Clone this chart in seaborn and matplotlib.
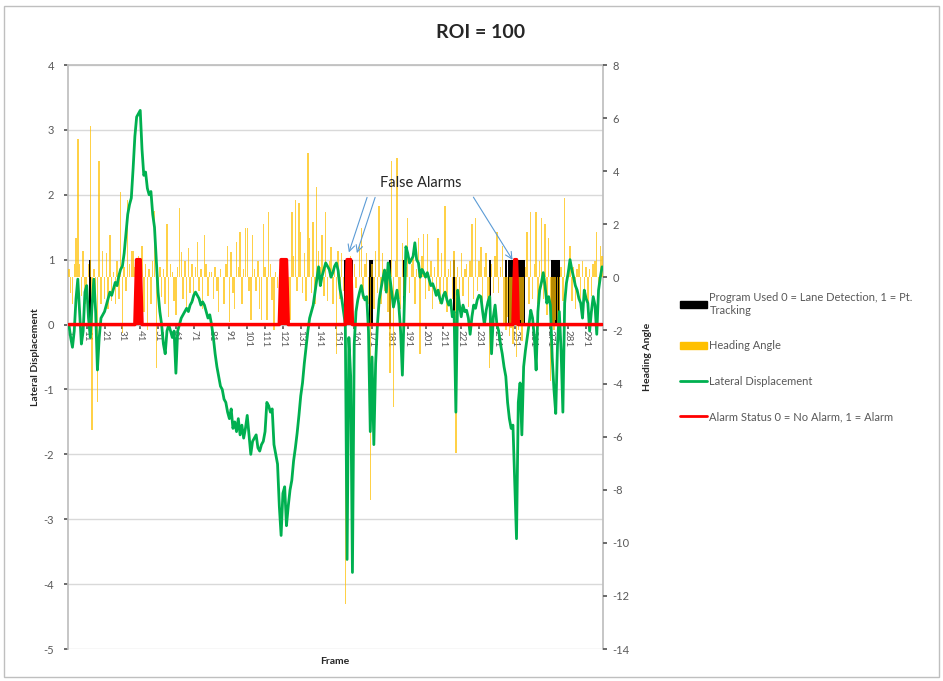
import numpy as np
import pandas as pd
import matplotlib.pyplot as plt
import seaborn as sns
from matplotlib.patches import Patch, Rectangle
from matplotlib.lines import Line2D

sns.set_theme(style="white")
plt.rcParams['font.family'] = ['Lato', 'DejaVu Sans']
plt.rcParams['axes.unicode_minus'] = False

# frames 1..300
frames = np.arange(1, 301)

# lateral displacement (left axis)
lat = [0.0, -0.2, -0.35, -0.1, 0.4, 0.7, 0.2, -0.3, -0.1, 0.5, 0.6, 0.1, -0.2, 0.3, 0.7, 0.2, -0.7, -0.2, 0.1, 0.15,
       0.2, 0.3, 0.4, 0.5, 0.45, 0.55, 0.65, 0.6, 0.75, 0.85, 0.9, 1.1, 1.4, 1.7, 1.85, 1.95, 2.4, 2.9, 3.2, 3.25,
       3.3, 2.7, 2.3, 2.35, 2.1, 2.0, 2.05, 1.7, 1.5, 1.0, 0.5, 0.2, 0.0, -0.3, -0.45, -0.1, 0.0, -0.1, -0.2, -0.1,
       -0.75, -0.1, 0.0, 0.1, 0.15, 0.2, 0.25, 0.2, 0.3, 0.35, 0.45, 0.5, 0.45, 0.4, 0.3, 0.35, 0.3, 0.2, 0.1, 0.15,
       0.0, -0.2, -0.45, -0.65, -0.8, -0.95, -1.0, -1.15, -1.2, -1.35, -1.45, -1.3, -1.6, -1.5, -1.65, -1.45, -1.7, -1.55, -1.75, -1.6,
       -1.4, -1.7, -2.0, -1.8, -1.75, -1.7, -1.9, -1.95, -1.85, -1.8, -1.65, -1.2, -1.25, -1.35, -1.3, -1.85, -2.0, -2.15, -2.8, -3.25,
       -2.6, -2.5, -3.1, -2.8, -2.55, -2.4, -2.1, -1.9, -1.67, -1.4, -1.1, -0.9, -0.6, -0.35, -0.1, 0.1, 0.2, 0.3, 0.5, 0.7,
       0.89, 0.6, 0.75, 0.85, 0.95, 0.9, 0.85, 0.73, 0.8, 0.9, 0.95, 0.83, 0.55, 0.4, 0.2, 0.0, -3.62, -0.2, -0.8, -3.82,
       -0.3, 0.2, 0.38, 0.5, 0.6, 0.45, 0.38, 0.43, -0.1, -1.65, -0.5, -1.85, -0.6, 0.0, 0.38, 0.55, 0.7, 0.84, 0.5, 0.95,
       0.73, 0.5, 0.27, 0.4, 0.53, 0.3, -0.1, -0.78, 0.2, 1.2, 1.1, 0.95, 1.0, 1.05, 1.26, 1.0, 0.95, 0.73, 0.85, 0.8,
       0.73, 0.8, 0.7, 0.6, 0.63, 0.55, 0.45, 0.53, 0.4, 0.33, 0.45, 0.5, 0.38, 0.3, 0.38, 0.12, 0.2, -1.35, 0.53, 0.3,
       0.12, 0.3, 0.2, 0.22, 0.1, -0.15, 0.12, 0.3, 0.25, 0.38, 0.45, 0.43, 0.2, 0.0, 0.22, 0.35, 0.43, -0.45, 0.12, 0.3,
       0.0, -0.1, -0.3, -0.45, -0.65, -0.8, -1.2, -1.45, -1.6, -1.55, -2.4, -3.3, -1.2, -0.9, -1.7, -0.65, -0.4, -0.2, 0.0, 0.22,
       0.1, -0.2, -0.7, 0.2, 0.53, 0.65, 0.8, 0.6, 0.33, 0.43, 0.3, -0.5, -1.0, -1.37, -0.3, 0.2, -0.4, -1.35, 0.33, 0.64,
       0.8, 1.0, 0.85, 0.73, 0.6, 0.53, 0.4, 0.33, 0.1, 0.53, 0.4, 0.33, -0.1, 0.2, 0.43, 0.3, -0.15, 0.53, 0.73, 0.89]

# heading angle (right axis)
heading = [0.3, -0.6, -1.0, 0.5, 1.5, 5.2, 0.5, -0.7, 1.0, -1.0,
           -0.7, 0.5, 5.7, -5.75, 0.3, -1.5, -4.7, 4.4, -1.0, 1.0,
           -0.8, 0.9, -1.2, 1.6, -0.9, 0.2, -1.0, 0.6, -0.8, 3.2,
           -2.1, 0.4, -0.5, 2.9, 0.5, 1.0, 1.0, 0.4, -0.6, 0.8,
           -0.8, 1.2, -1.3, 0.5, -2.0, 0.3, -1.0, 0.6, 2.5, -3.4,
           -0.5, 0.4, -0.75, 0.3, -1.0, 2.0, -1.5, 0.5, 0.2, -0.9,
           -1.4, 0.4, 2.6, 0.95, -0.8, 0.6, -1.2, 1.1, -0.6, 0.5,
           -0.9, 0.4, 1.33, -0.5, 0.3, -1.2, 1.6, 0.5, -0.7, 0.2,
           0.2, -0.8, 0.4, -0.5, -1.3, 0.3, 0.0, -1.0, 0.5, 1.2,
           -1.7, 0.95, -0.6, -1.2, 1.33, 0.4, 1.7, -1.0, 0.3, 1.85,
           1.85, -0.5, -1.6, 1.6, 0.3, -0.5, 0.6, -1.2, -1.6, 2.0,
           0.4, -1.6, 2.45, 0.5, -0.85, -2.0, 0.2, -0.4, 0.3, -0.5,
           0.3, -0.6, 0.4, -0.8, -1.6, 2.45, 0.8, 2.9, -0.5, 2.8,
           1.7, -0.6, 0.9, -0.9, 4.7, 1.5, -0.6, 2.1, -1.0, 3.4,
           1.0, 0.4, 1.6, -0.7, 2.45, -0.9, 0.6, 1.15, -1.0, 0.5,
           -2.9, 1.0, -0.8, 0.9, -0.5, -12.3, 0.6, -1.2, 0.8, -1.5,
           0.5, -0.4, 0.0, 1.2, 1.85, -0.8, 0.5, 0.9, -1.0, -8.4,
           0.5, -1.2, 1.0, -0.6, 2.7, -1.0, 0.9, -0.5, 0.3, -1.3,
           -3.6, 4.4, -4.9, 0.6, 4.5, -0.8, -1.2, 1.3, -0.7, 0.4,
           2.25, -0.6, 0.5, 0.9, -1.0, 0.3, 1.5, -2.9, 0.8, 1.65,
           -0.8, 1.65, -0.5, 0.6, -1.2, 0.4, -0.6, 1.5, -1.0, 0.9,
           -0.7, 2.7, -1.3, 0.3, 0.6, -0.8, 1.0, -6.6, 0.4, -1.0,
           0.9, -0.7, 0.3, 0.5, -1.1, 0.6, 2.0, -0.8, 2.25, -0.5,
           0.6, 1.15, -1.0, 0.4, 0.9, -0.9, -3.4, 0.5, -0.6, 0.8,
           1.7, -0.6, 0.4, 1.2, -1.8, -2.0, -1.5, -2.2, -1.9, -2.5,
           -1.7, -3.0, -2.0, -1.6, -2.4, -1.8, 0.4, 1.7, -1.0, 2.45,
           -0.8, 0.5, 2.45, -1.0, 0.6, 2.25, -0.8, 2.0, -1.4, 1.5,
           -3.9, -1.8, -2.0, -1.6, -2.2, -1.7, 0.4, -0.9, 3.0, -0.6,
           0.5, 1.2, -0.9, 0.4, -1.2, 0.3, 0.5, -1.0, 0.6, -0.8,
           0.4, -1.2, 0.3, -0.7, 0.5, 0.6, 1.7, -0.6, 1.2, 0.8]

# frames where program used = 1 (pt. tracking) and alarm status = 1
program_on = [13, 156, 157, 158, 159, 160, 170, 171, 181, 189, 217, 237, 246,
              248, 249, 250, 251, 252, 253, 254, 255, 256, 272, 273, 274, 275, 276]
alarm_on = [39, 40, 41, 120, 121, 122, 123, 157, 158, 159, 251, 252]

df = pd.DataFrame({'frame': frames, 'lat': lat, 'heading': heading})
df['program'] = df['frame'].isin(program_on).astype(int)
df['alarm'] = df['frame'].isin(alarm_on).astype(int)

ORANGE = '#FFC000'
GREEN = '#00B050'
RED = '#FF0000'
GRID = '#D9D9D9'
TXT = '#595959'

fig = plt.figure(figsize=(9.43, 6.81), dpi=100)
ax = fig.add_axes([68/943, 1 - 649/681, 535/943, 584/681])
ax2 = ax.twinx()
ax3 = ax.twinx()

# program used bars (primary axis, bottom layer)
ax.bar(df['frame'], df['program'], width=1.0, color='black', linewidth=0, zorder=2)

# heading angle bars (secondary axis)
ax2.bar(df['frame'], df['heading'], width=0.8, color=ORANGE, alpha=0.72, linewidth=0)

# lines on top layer, same scale as primary
sns.lineplot(data=df, x='frame', y='lat', ax=ax3, color=GREEN, linewidth=2)
ax3.fill_between(df['frame'], df['alarm'], 0, color=RED, linewidth=0)
sns.lineplot(data=df, x='frame', y='alarm', ax=ax3, color=RED, linewidth=2.5)

ax.set_xlim(0.5, 300.5)
ax.set_ylim(-5, 4)
ax3.set_ylim(-5, 4)
ax2.set_ylim(-14, 8)

ax.set_yticks(range(-5, 5))
ax2.set_yticks(range(-14, 9, 2))
ax.yaxis.grid(True, color=GRID, linewidth=1)
ax.set_axisbelow(True)

ax.set_xticks(range(1, 301, 10))
ax.tick_params(axis='x', labelrotation=270, labelsize=7, colors=TXT, length=3, pad=1, bottom=True)
ax.tick_params(axis='y', labelsize=8, colors=TXT, length=3, pad=7, left=True)
ax2.tick_params(axis='y', labelsize=8, colors=TXT, length=3, pad=4, right=True)
for a in (ax, ax2, ax3):
    a.set_xlabel('')
    a.set_ylabel('')
ax3.yaxis.set_visible(False)

for s in ax.spines.values():
    s.set_color('#BFBFBF')
ax.spines['bottom'].set_position(('data', 0))
for a in (ax2, ax3):
    for s in a.spines.values():
        s.set_visible(False)

fig.text(481/943, 1 - 33/681, 'ROI = 100', ha='center', va='center', fontsize=14, fontweight='bold')
fig.text(35/943, 1 - 357/681, 'Lateral Displacement', rotation=90, ha='center', va='center',
         fontsize=7.5, fontweight='bold')
fig.text(648/943, 1 - 357/681, 'Heading Angle', rotation=90, ha='center', va='center',
         fontsize=7.5, fontweight='bold')
fig.text(335/943, 1 - 661/681, 'Frame', ha='center', va='center', fontsize=7.5, fontweight='bold')

# false alarm callouts
ax3.text(198.5, 2.18, 'False Alarms', ha='center', va='center', fontsize=10.5, color='#262626')
arrow = dict(arrowstyle='->', color='#5B9BD5', lw=0.8)
ax3.annotate('', xy=(157.5, 1.07), xytext=(168.7, 2.0), arrowprops=arrow)
ax3.annotate('', xy=(162, 1.06), xytext=(173.2, 2.0), arrowprops=arrow)
ax3.annotate('', xy=(250.6, 0.96), xytext=(227, 2.0), arrowprops=arrow)

handles = [Patch(color='black'), Patch(color=ORANGE),
           Line2D([], [], color=GREEN, lw=2), Line2D([], [], color=RED, lw=2)]
labels = ['Program Used 0 = Lane Detection, 1 = Pt.\nTracking', 'Heading Angle',
          'Lateral Displacement', 'Alarm Status 0 = No Alarm, 1 = Alarm']
leg = fig.legend(handles, labels, loc='upper left', bbox_to_anchor=(670/943, 1 - 282/681),
                 frameon=False, fontsize=8, handlelength=2.4, handleheight=0.55,
                 labelspacing=2.2, handletextpad=0.25)
for t in leg.get_texts():
    t.set_color(TXT)

fig.add_artist(Rectangle((0.004, 0.006), 0.992, 0.985, transform=fig.transFigure,
                         fill=False, edgecolor='#BFBFBF', linewidth=1))

fig.savefig('out.png', dpi=100)
